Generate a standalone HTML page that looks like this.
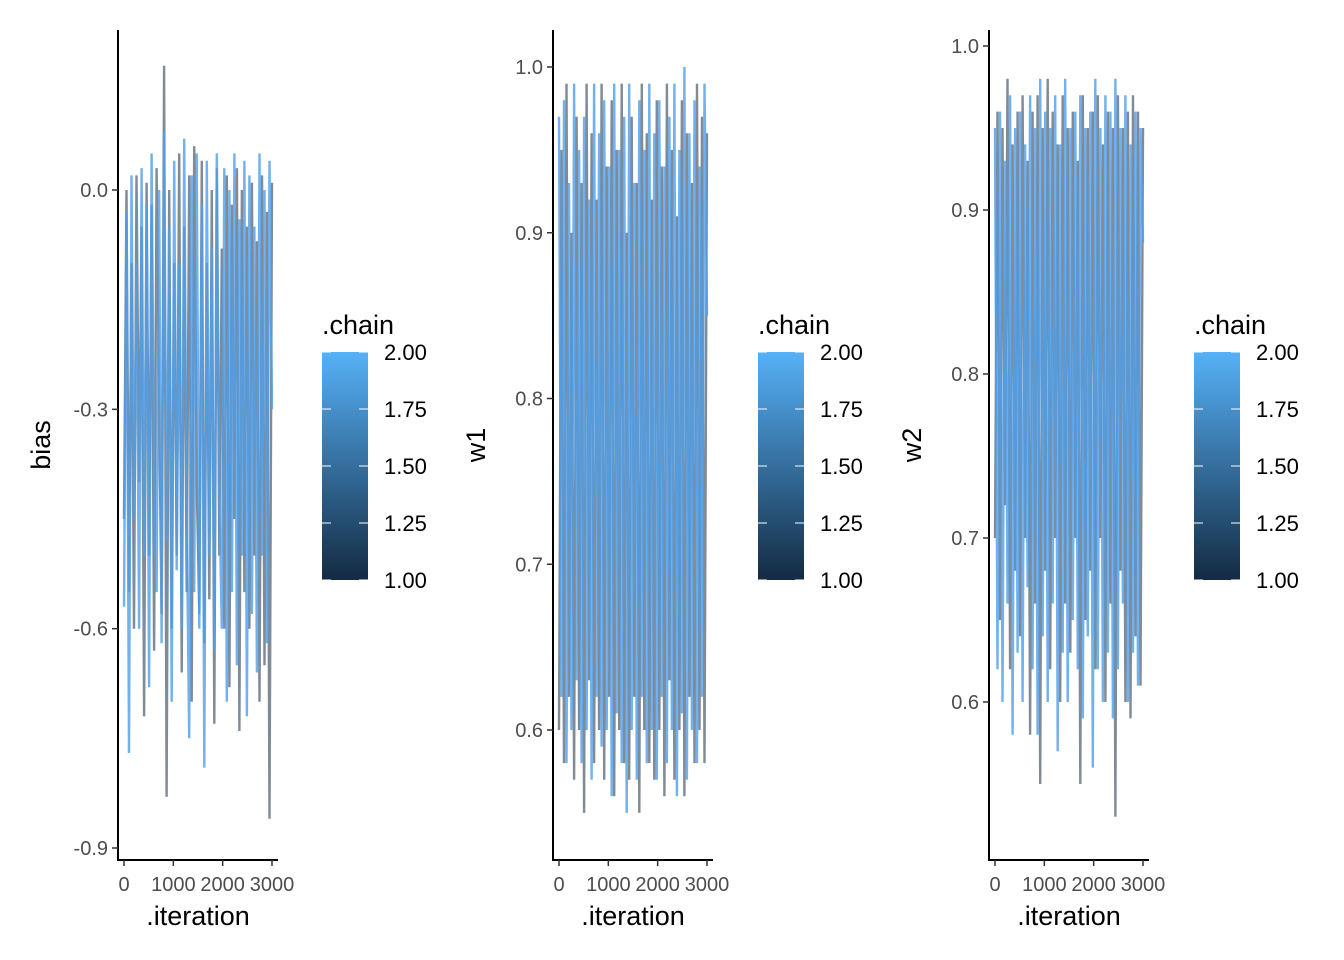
<!DOCTYPE html>
<html><head><meta charset="utf-8"><style>
body{margin:0;background:#fff;}
svg{display:block;font-family:"Liberation Sans",Arial,sans-serif;}
</style></head><body>
<svg id="chart" width="1344" height="960" viewBox="0 0 1344 960">
<defs><linearGradient id="cbg" x1="0" y1="1" x2="0" y2="0"><stop offset="0" stop-color="#132B43"/><stop offset="1" stop-color="#56B1F7"/></linearGradient></defs>
</svg>
<script>
// data
const iterationTicks = [0, 1000, 2000, 3000];
const iterationTickLabels = ["0", "1000", "2000", "3000"];
const legendValues = [1.00, 1.25, 1.50, 1.75, 2.00];
const legendLabels = ["1.00", "1.25", "1.50", "1.75", "2.00"];
const biasTicks = [0.0, -0.3, -0.6, -0.9];
const biasTickLabels = ["0.0", "-0.3", "-0.6", "-0.9"];
const w1Ticks = [1.0, 0.9, 0.8, 0.7, 0.6];
const w1TickLabels = ["1.0", "0.9", "0.8", "0.7", "0.6"];
const w2Ticks = [1.0, 0.9, 0.8, 0.7, 0.6];
const w2TickLabels = ["1.0", "0.9", "0.8", "0.7", "0.6"];
const biasChain1 = [-0.45,0.0,-0.55,-0.1,-0.6,0.02,-0.4,-0.05,-0.72,0.01,-0.5,-0.02,-0.63,0.03,-0.3,-0.58,0.17,-0.83,0.0,-0.6,-0.1,-0.5,0.05,-0.66,-0.05,-0.55,0.02,-0.7,0.06,-0.4,-0.58,0.04,-0.62,-0.1,-0.56,0.0,-0.73,0.03,-0.5,-0.08,-0.6,0.02,-0.68,-0.02,-0.45,0.03,-0.74,0.0,-0.55,-0.05,-0.6,0.01,-0.5,-0.07,-0.7,0.02,-0.65,-0.03,-0.86,0.01];
const biasChain2 = [-0.57,-0.03,-0.77,0.02,-0.45,-0.1,-0.6,0.03,-0.5,-0.02,-0.68,0.05,-0.4,-0.55,0.0,-0.62,0.08,-0.48,-0.05,-0.7,0.04,-0.52,-0.1,-0.6,0.07,-0.45,-0.75,0.02,-0.55,0.05,-0.6,-0.02,-0.79,0.04,-0.5,-0.08,-0.63,0.05,-0.42,-0.6,0.03,-0.7,0.0,-0.55,0.05,-0.65,-0.04,-0.5,0.04,-0.72,0.02,-0.58,-0.05,-0.66,0.05,-0.5,0.0,-0.62,0.04,-0.3];
const w1Chain1 = [0.6,0.95,0.58,0.99,0.62,0.9,0.57,0.97,0.6,0.93,0.55,0.99,0.63,0.96,0.58,0.92,0.6,0.99,0.57,0.94,0.62,0.98,0.56,0.95,0.6,0.99,0.58,0.9,0.57,0.97,0.62,0.93,0.55,0.99,0.6,0.96,0.58,0.92,0.57,0.98,0.6,0.94,0.56,0.99,0.63,0.95,0.57,0.91,0.6,0.98,0.56,0.96,0.62,0.93,0.58,0.99,0.6,0.97,0.58,0.96];
const w1Chain2 = [0.97,0.62,0.98,0.58,0.93,0.6,0.99,0.63,0.95,0.58,0.97,0.6,0.92,0.57,0.99,0.62,0.96,0.59,0.98,0.6,0.94,0.56,0.99,0.61,0.95,0.58,0.97,0.55,0.99,0.6,0.93,0.57,0.98,0.62,0.95,0.58,0.99,0.6,0.96,0.57,0.98,0.62,0.94,0.58,0.97,0.6,0.99,0.56,0.95,0.61,1.0,0.57,0.96,0.6,0.98,0.58,0.94,0.62,0.99,0.85];
const w2Chain1 = [0.7,0.96,0.65,0.95,0.72,0.98,0.62,0.94,0.68,0.96,0.64,0.97,0.7,0.93,0.58,0.96,0.66,0.97,0.55,0.95,0.68,0.98,0.62,0.96,0.7,0.94,0.6,0.97,0.66,0.95,0.63,0.96,0.7,0.93,0.55,0.97,0.65,0.95,0.68,0.96,0.62,0.97,0.7,0.94,0.6,0.96,0.66,0.95,0.53,0.97,0.68,0.95,0.6,0.96,0.59,0.97,0.64,0.96,0.61,0.95];
const w2Chain2 = [0.95,0.62,0.96,0.6,0.93,0.66,0.97,0.58,0.95,0.63,0.96,0.6,0.94,0.67,0.97,0.62,0.95,0.58,0.98,0.64,0.96,0.6,0.95,0.66,0.97,0.57,0.94,0.63,0.98,0.6,0.95,0.65,0.96,0.62,0.97,0.59,0.95,0.64,0.96,0.56,0.98,0.62,0.95,0.6,0.97,0.63,0.96,0.59,0.98,0.62,0.95,0.66,0.97,0.6,0.94,0.63,0.96,0.61,0.95,0.88];

const svg = document.getElementById('chart');
const NS = 'http://www.w3.org/2000/svg';
function mk(tag, attrs, parent){const e=document.createElementNS(NS,tag);for(const k in attrs)e.setAttribute(k,attrs[k]);(parent||svg).appendChild(e);return e;}

const panels = [
 {name:'bias', ax:118, x0:124, x3000:272, yTop:30, yBot:860, v0:0.0, p0:190, v1:-0.9, p1:848, ticks:biasTicks, labels:biasTickLabels, c1:biasChain1, c2:biasChain2, lx:322},
 {name:'w1', ax:553, x0:559, x3000:707, yTop:30, yBot:860, v0:1.0, p0:67, v1:0.6, p1:730, ticks:w1Ticks, labels:w1TickLabels, c1:w1Chain1, c2:w1Chain2, lx:758},
 {name:'w2', ax:989, x0:995, x3000:1143, yTop:30, yBot:860, v0:1.0, p0:46, v1:0.6, p1:702, ticks:w2Ticks, labels:w2TickLabels, c1:w2Chain1, c2:w2Chain2, lx:1194}
];

panels.forEach(p=>{
  const g = mk('g',{});
  
  
  const xs = v => p.x0 + (v/3000)*(p.x3000-p.x0);
  const ys = v => p.p0 + (v-p.v0)/(p.v1-p.v0)*(p.p1-p.p0);
  [[p.c1,'#4a5a6a',0.7,'chain-1-trace'],[p.c2,'#4f9ee8',0.8,'chain-2-trace']].forEach(([arr,col,op,nm])=>{
    const n = arr.length;
    const pts = arr.map((v,i)=>xs(i*3000/(n-1)).toFixed(1)+','+ys(v).toFixed(1)).join(' ');
    const pl = mk('polyline',{points:pts,fill:'none',stroke:col,'stroke-opacity':op,'stroke-width':2.4,'stroke-linejoin':'bevel'},g);
    
    
  });
  const ya = mk('line',{x1:p.ax,y1:p.yTop,x2:p.ax,y2:p.yBot+1,stroke:'#000','stroke-width':2},g);
  
  
  const xa = mk('line',{x1:p.ax-1,y1:p.yBot,x2:p.x3000+6,y2:p.yBot,stroke:'#000','stroke-width':2},g);
  
  
  p.ticks.forEach((t,i)=>{
    const y = ys(t);
    mk('line',{x1:p.ax-6,y1:y,x2:p.ax,y2:y,stroke:'#333','stroke-width':1.5},g);
    const tx = mk('text',{x:p.ax-10,y:y+7,'text-anchor':'end','font-size':20,fill:'#4d4d4d'},g);
    tx.textContent = p.labels[i];
    
    
  });
  iterationTicks.forEach((t,i)=>{
    const x = xs(t);
    mk('line',{x1:x,y1:p.yBot,x2:x,y2:p.yBot+6,stroke:'#333','stroke-width':1.5},g);
    const tx = mk('text',{x:x,y:p.yBot+31,'text-anchor':'middle','font-size':20,fill:'#4d4d4d'},g);
    tx.textContent = iterationTickLabels[i];
    
    
  });
  const xt = mk('text',{x:(p.x0+p.x3000)/2,y:925,'text-anchor':'middle','font-size':27,fill:'#000'},g);
  xt.textContent = '.iteration';
  
  
  const yt = mk('text',{x:0,y:0,'text-anchor':'middle','font-size':27,fill:'#000',transform:`translate(${p.ax-68},445) rotate(-90)`},g);
  yt.textContent = p.name;
  
  
  const lg = mk('g',{},g);
  
  
  const lt = mk('text',{x:p.lx,y:334,'font-size':27,fill:'#000'},lg);
  lt.textContent = '.chain';
  
  
  const cbTop=352, cbBot=580;
  const cb = mk('rect',{x:p.lx,y:cbTop,width:46,height:cbBot-cbTop,fill:'url(#cbg)'},lg);
  
  
  legendValues.forEach((v,i)=>{
    const y = cbBot - (v-1)/(1)*(cbBot-cbTop);
    mk('line',{x1:p.lx,y1:y,x2:p.lx+9,y2:y,stroke:'#fff','stroke-width':1},lg);
    mk('line',{x1:p.lx+37,y1:y,x2:p.lx+46,y2:y,stroke:'#fff','stroke-width':1},lg);
    const tx = mk('text',{x:p.lx+62,y:y+8,'font-size':22,fill:'#000'},lg);
    tx.textContent = legendLabels[i];
    
    
  });
});
</script>
</body></html>
